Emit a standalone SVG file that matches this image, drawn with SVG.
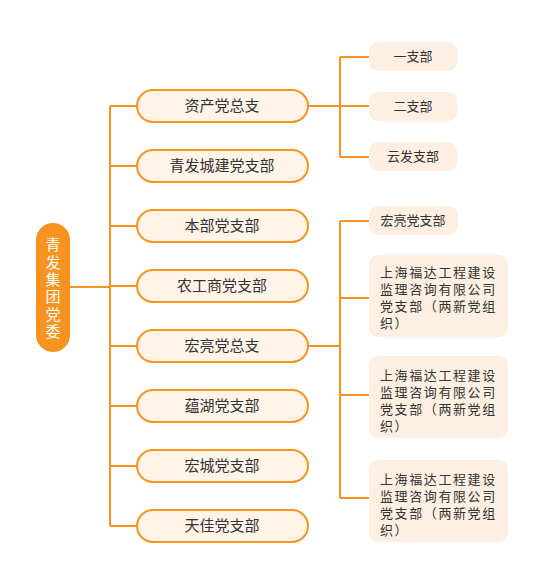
<svg xmlns="http://www.w3.org/2000/svg" width="554" height="574" viewBox="0 0 554 574">
<style>
.ln{stroke:#F7931E;stroke-width:2;fill:none}
.l1 rect{fill:#FEF4E8;stroke:#F7931E;stroke-width:2}
.l2 rect{fill:#FDF0E2}
text{font-family:"Liberation Sans","Noto Sans CJK SC",sans-serif;fill:#333}
.t1{font-size:15px;text-anchor:middle}
.t2{font-size:13px;text-anchor:middle}
.t3{font-size:13px;letter-spacing:1.6px}
.root text{fill:#fff;font-size:15px;writing-mode:vertical-rl;letter-spacing:2.4px;font-family:"Noto Sans CJK SC",sans-serif}
</style>
<rect width="554" height="574" fill="#fff"/>
<g id="connectors">
<path class="ln" d="M70 287H110M110 106V526M110 106H137M110 166H137M110 226H137M110 286H137M110 346H137M110 406H137M110 466H137M110 526H137"/>
<path class="ln" d="M308 106H340M340 57V157M340 57H369M340 106H369M340 157H369"/>
<path class="ln" d="M308 346H340M340 221V498M340 221H369M340 298H369M340 395H369M340 498H369"/>
</g>
<g id="root" class="root">
<rect x="36" y="223" width="34" height="129" rx="17" fill="#F7931E"/>
<text x="53" y="237">青发集团党委</text>
</g>
<g id="n1" class="l1"><rect x="137" y="90" width="171" height="32" rx="16"/><text class="t1" x="222" y="111">资产党总支</text></g>
<g id="n2" class="l1"><rect x="137" y="150" width="171" height="32" rx="16"/><text class="t1" x="222" y="171">青发城建党支部</text></g>
<g id="n3" class="l1"><rect x="137" y="210" width="171" height="32" rx="16"/><text class="t1" x="222" y="231">本部党支部</text></g>
<g id="n4" class="l1"><rect x="137" y="270" width="171" height="32" rx="16"/><text class="t1" x="222" y="291">农工商党支部</text></g>
<g id="n5" class="l1"><rect x="137" y="330" width="171" height="32" rx="16"/><text class="t1" x="222" y="351">宏亮党总支</text></g>
<g id="n6" class="l1"><rect x="137" y="390" width="171" height="32" rx="16"/><text class="t1" x="222" y="411">蕴湖党支部</text></g>
<g id="n7" class="l1"><rect x="137" y="450" width="171" height="32" rx="16"/><text class="t1" x="222" y="471">宏城党支部</text></g>
<g id="n8" class="l1"><rect x="137" y="510" width="171" height="32" rx="16"/><text class="t1" x="222" y="531">天佳党支部</text></g>
<g id="s1" class="l2"><rect x="369" y="42" width="88" height="29" rx="9"/><text class="t2" x="413" y="61">一支部</text></g>
<g id="s2" class="l2"><rect x="369" y="92" width="88" height="29" rx="9"/><text class="t2" x="413" y="111">二支部</text></g>
<g id="s3" class="l2"><rect x="369" y="142" width="88" height="29" rx="9"/><text class="t2" x="413" y="161">云发支部</text></g>
<g id="s4" class="l2"><rect x="369" y="206" width="89" height="29" rx="9"/><text class="t2" x="413" y="225">宏亮党支部</text></g>
<g id="s5" class="l2"><rect x="369" y="255" width="139" height="82" rx="9"/>
<text class="t3" x="380" y="277">上海福达工程建设</text>
<text class="t3" x="380" y="294">监理咨询有限公司</text>
<text class="t3" x="380" y="311">党支部（两新党组</text>
<text class="t3" x="380" y="328">织）</text></g>
<g id="s6" class="l2"><rect x="369" y="356" width="139" height="82" rx="9"/>
<text class="t3" x="380" y="380">上海福达工程建设</text>
<text class="t3" x="380" y="397">监理咨询有限公司</text>
<text class="t3" x="380" y="414">党支部（两新党组</text>
<text class="t3" x="380" y="431">织）</text></g>
<g id="s7" class="l2"><rect x="369" y="460" width="139" height="82" rx="9"/>
<text class="t3" x="380" y="484">上海福达工程建设</text>
<text class="t3" x="380" y="501">监理咨询有限公司</text>
<text class="t3" x="380" y="518">党支部（两新党组</text>
<text class="t3" x="380" y="535">织）</text></g>
</svg>
